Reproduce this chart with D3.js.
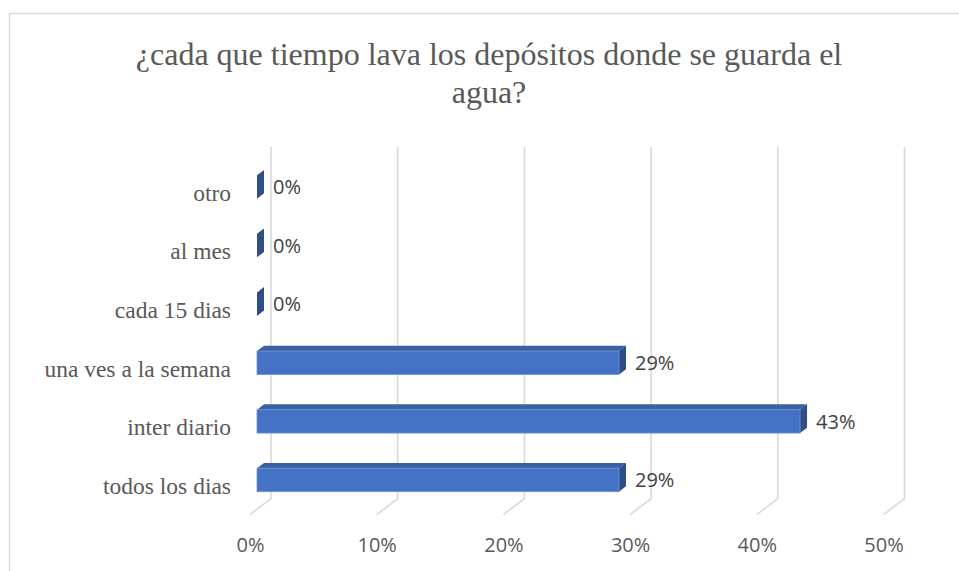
<!DOCTYPE html>
<html>
<head>
<meta charset="utf-8">
<script src="https://cdn.jsdelivr.net/npm/d3@7"></script>
<style>
  html, body { margin: 0; padding: 0; background: #ffffff; }
  svg { display: block; }
</style>
</head>
<body>
<svg id="chart" width="959" height="571"></svg>
<script>
// Survey answers, listed bottom to top as they appear on the chart
const categories = ["todos los dias", "inter diario", "una ves a la semana", "cada 15 dias", "al mes", "otro"];
const shares = [0.2857, 0.4286, 0.2857, 0, 0, 0];
const tickValues = [0, 0.1, 0.2, 0.3, 0.4, 0.5];
const titleLines = ["¿cada que tiempo lava los depósitos donde se guarda el", "agua?"];

const svg = d3.select("#chart");
const W = 959, H = 571;

// chart frame
svg.append("path")
  .attr("d", `M9.5,${H} V13.5 H${W}`)
  .attr("fill", "none")
  .attr("stroke", "#d9d9d9")
  .attr("stroke-width", 1.5);

// title
svg.append("g").selectAll("text")
  .data(titleLines)
  .join("text")
  .attr("x", 489)
  .attr("y", (d, i) => 65 + i * 38)
  .attr("text-anchor", "middle")
  .attr("font-family", "'Liberation Serif', 'Times New Roman', serif")
  .attr("font-size", 32)
  .attr("fill", "#595959")
  .text(d => d);

// oblique 3D projection: front plane plus a depth vector
const depth = { x: 21, y: -16 };
const x = d3.scaleLinear().domain([0, 0.5]).range([250, 250 + 0.5 * 1267]);
const y = d3.scaleBand().domain(categories.slice().reverse()).range([163, 514.6]).padding(0);
const barH = y.bandwidth() * 0.4;
const fmt = d3.format(".0%");

// back-wall gridlines and their floor segments
const grid = svg.append("g");
grid.selectAll("path")
  .data(tickValues)
  .join("path")
  .attr("d", t => {
    const xb = x(t) + depth.x;
    const yTop = y.range()[0] + depth.y;
    const yBot = y.range()[1] + depth.y;
    return `M${xb},${yTop} V${yBot} L${x(t)},${y.range()[1]}`;
  })
  .attr("fill", "none")
  .attr("stroke", "#d9d9d9")
  .attr("stroke-width", 1.6);

// bars sit in the middle third of the depth
const f = 1 / 3;
const bars = svg.append("g").selectAll("g")
  .data(categories.map((c, i) => ({ c, v: shares[i] })))
  .join("g");

bars.each(function (d) {
  const g = d3.select(this);
  const x0 = x(0) + depth.x * f;
  const x1 = x(d.v) + depth.x * f;
  const yc = y(d.c) + y.bandwidth() / 2 + depth.y * f;
  const yt = yc - barH / 2, yb = yc + barH / 2;
  const dx = depth.x * f, dy = depth.y * f;
  // top face
  if (x1 > x0) {
    g.append("path")
      .attr("d", `M${x0},${yt} L${x1},${yt} L${x1 + dx},${yt + dy} L${x0 + dx},${yt + dy} Z`)
      .attr("fill", "#3b5fa3");
  }
  // end face
  g.append("path")
    .attr("d", `M${x1},${yt} L${x1 + dx},${yt + dy} L${x1 + dx},${yb + dy} L${x1},${yb} Z`)
    .attr("fill", "#2f4d86");
  // front face
  if (x1 > x0) {
    g.append("rect")
      .attr("x", x0)
      .attr("y", yt)
      .attr("width", x1 - x0)
      .attr("height", barH)
      .attr("fill", "#4472c4")
      .attr("stroke", "#6f93d6")
      .attr("stroke-width", 0.8);
  }
  // value label
  g.append("text")
    .attr("x", x1 + dx + 9)
    .attr("y", yc)
    .attr("dy", "0.36em")
    .attr("font-family", "'Open Sans', sans-serif")
    .attr("font-size", 20)
    .attr("fill", "#404040")
    .text(fmt(d.v));
});

// category axis
const yAxis = svg.append("g")
  .attr("transform", `translate(231,0)`)
  .call(d3.axisLeft(y).tickSize(0).tickPadding(0));
yAxis.select(".domain").remove();
yAxis.selectAll("text")
  .attr("x", 0)
  .attr("dy", "0.36em")
  .attr("font-family", "'Liberation Serif', 'Times New Roman', serif")
  .attr("font-size", 23.5)
  .attr("fill", "#595959");

// value axis
const xAxis = svg.append("g")
  .attr("transform", `translate(0,552)`)
  .call(d3.axisBottom(x).tickValues(tickValues).tickFormat(fmt).tickSize(0).tickPadding(0));
xAxis.select(".domain").remove();
xAxis.selectAll("text")
  .attr("y", 0)
  .attr("dy", 0)
  .attr("font-family", "'Open Sans', sans-serif")
  .attr("font-size", 20)
  .attr("fill", "#595959");
</script>
</body>
</html>
